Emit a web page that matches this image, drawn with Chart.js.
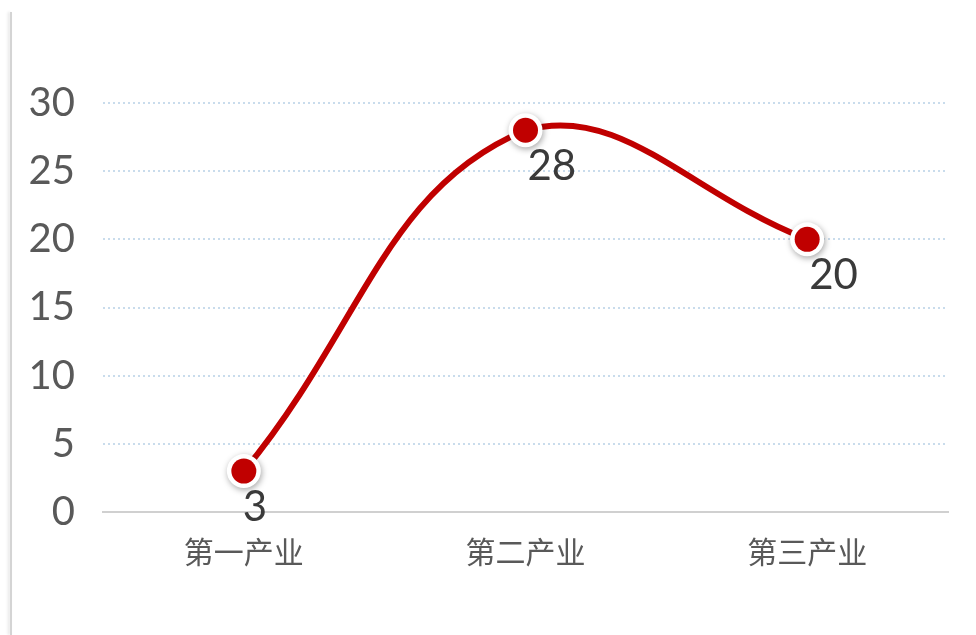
<!DOCTYPE html>
<html>
<head>
<meta charset="utf-8">
<script src="https://cdn.jsdelivr.net/npm/chart.js@4"></script>
<style>
  html, body { margin: 0; padding: 0; background: #fff; }
  #wrap { position: relative; width: 976px; height: 635px; }
  #edge { position: absolute; left: 10px; top: 12px; width: 2px; height: 623px; background: #d4d4d4; box-shadow: -2px 0 3px rgba(0,0,0,0.12); }
  canvas { position: absolute; left: 0; top: 0; }
</style>
</head>
<body>
<div id="wrap">
  <div id="edge"></div>
  <canvas id="chart" width="976" height="635"></canvas>
</div>
<script>
const categories = ['第一产业', '第二产业', '第三产业'];
const values = [3, 28, 20];
const yTicks = [0, 5, 10, 15, 20, 25, 30];

// markers: white ring with soft shadow, red dot inside
const markers = {
    id: 'markers',
    afterDatasetsDraw(chart) {
        const ctx = chart.ctx;
        const meta = chart.getDatasetMeta(0);
        ctx.save();
        meta.data.forEach(pt => {
            ctx.shadowColor = 'rgba(0,0,0,0.35)';
            ctx.shadowBlur = 6;
            ctx.shadowOffsetX = 1;
            ctx.shadowOffsetY = 2;
            ctx.beginPath();
            ctx.arc(pt.x, pt.y, 17, 0, Math.PI * 2);
            ctx.fillStyle = '#ffffff';
            ctx.fill();
            ctx.shadowColor = 'rgba(0,0,0,0)';
            ctx.beginPath();
            ctx.arc(pt.x, pt.y, 12.5, 0, Math.PI * 2);
            ctx.fillStyle = '#c00000';
            ctx.fill();
        });
        ctx.restore();
    }
};

// value labels drawn under each point, slightly right
const valueLabels = {
    id: 'valueLabels',
    afterDatasetsDraw(chart) {
        const ctx = chart.ctx;
        const meta = chart.getDatasetMeta(0);
        ctx.save();
        ctx.font = '400 42px Lato, "Noto Sans", sans-serif';
        ctx.fillStyle = '#3a3a3a';
        ctx.textAlign = 'left';
        ctx.textBaseline = 'top';
        meta.data.forEach((pt, i) => {
            const txt = String(values[i]);
            const x = txt.length > 1 ? pt.x + 2 : pt.x - 1;
            ctx.fillText(txt, x, pt.y + 15);
        });
        ctx.restore();
    }
};

const ctx = document.getElementById('chart').getContext('2d');
new Chart(ctx, {
    type: 'line',
    data: {
        labels: categories,
        datasets: [{
            data: values,
            borderColor: '#c00000',
            borderWidth: 6,
            tension: 0.42,
            fill: false,
            pointRadius: 0,
            pointHoverRadius: 0
        }]
    },
    options: {
        responsive: false,
        animation: false,
        events: [],
        layout: { padding: { top: 103, right: 28, bottom: 0, left: 0 } },
        plugins: {
            legend: { display: false },
            tooltip: { enabled: false }
        },
        scales: {
            x: {
                offset: true,
                grid: { display: false, drawTicks: false },
                border: { display: true, color: '#d0d0d0', width: 2 },
                ticks: {
                    padding: 22,
                    color: '#595959',
                    font: { family: '"Noto Sans CJK SC"', size: 30 }
                },
                afterFit(scale) { scale.height = 123; }
            },
            y: {
                min: 0,
                max: 30,
                afterBuildTicks(scale) { scale.ticks = yTicks.map(v => ({ value: v })); },
                grid: {
                    color: (c) => c.tick && c.tick.value === 0 ? 'rgba(0,0,0,0)' : '#c9dcec',
                    lineWidth: 2,
                    drawTicks: false
                },
                border: { display: false, dash: [2, 3] },
                ticks: {
                    padding: 28,
                    color: '#595959',
                    font: { family: 'Lato, "Noto Sans", sans-serif', size: 40, weight: '400' }
                },
                afterFit(scale) { scale.width = 103; }
            }
        }
    },
    plugins: [markers, valueLabels]
});
</script>
</body>
</html>
